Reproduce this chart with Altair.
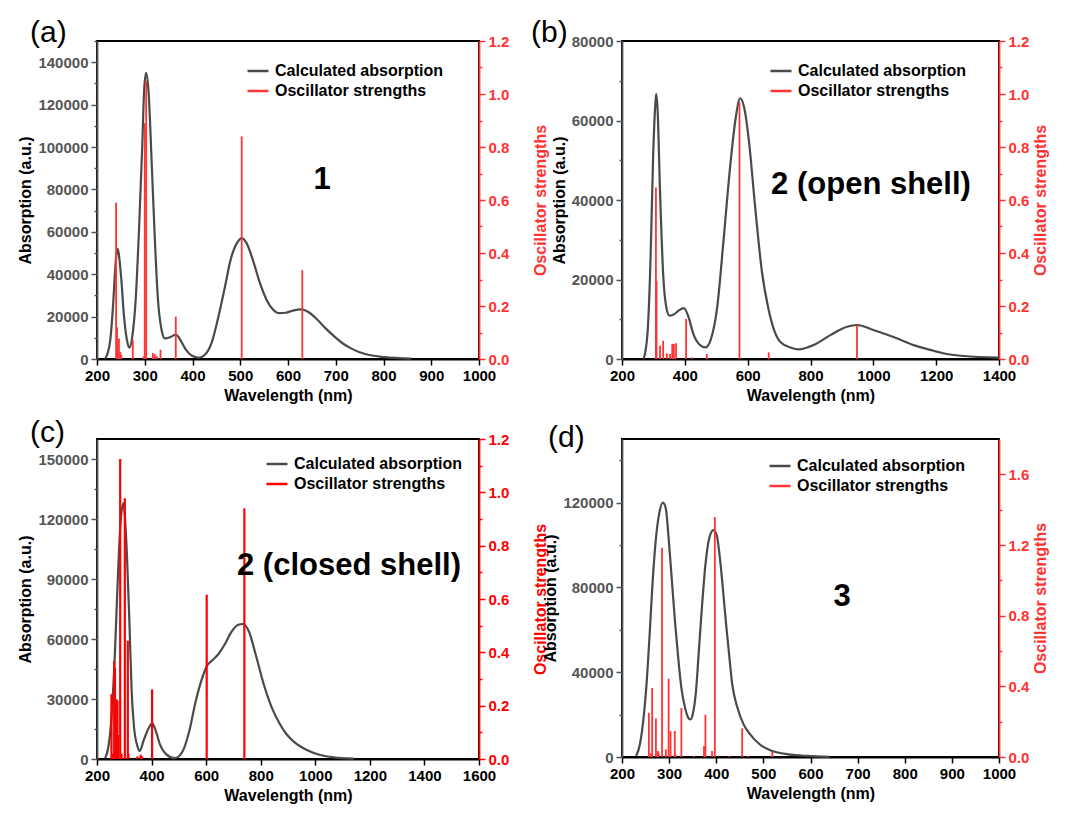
import altair as alt
import pandas as pd

FONT = "Liberation Sans"
GREY = "#4a4a4a"
SERIES = ["Calculated absorption", "Oscillator strengths"]

# ---------------- panel (a): compound 1 ----------------
a_curve_nm = [217, 227, 234, 238, 243, 250, 257, 264, 268, 274, 281, 288, 295, 299, 303, 308, 315, 322, 328,
              335, 342, 352, 365, 376, 386, 399, 413, 426, 440, 453, 467, 480, 494, 503, 514, 528, 541, 555,
              568, 582, 595, 610, 628, 645, 663, 680, 698, 715, 733, 750, 768, 802, 858]
a_curve_abs = [0, 7600, 26600, 42000, 52000, 40000, 19000, 7500, 5300, 10800, 28000, 61000, 102000, 128000,
               135000, 126000, 90000, 52000, 27000, 14000, 9700, 10200, 11500, 8400, 4400, 1500, 600, 2000, 7600,
               18700, 33000, 47000, 55000, 57000, 54300, 45600, 36000, 28000, 23500, 21600, 21800, 22800, 23400,
               21800, 18200, 14200, 10400, 7300, 4900, 3200, 2000, 900, 200]
a_stick_nm = [240, 242, 246, 249, 251, 275, 298, 300, 303, 317, 321, 325, 333, 365, 503, 630]
a_stick_f = [0.59, 0.12, 0.077, 0.026, 0.015, 0.073, 0.01, 0.89, 1.05, 0.023, 0.018, 0.012, 0.035, 0.16, 0.84, 0.335]

# ---------------- panel (b): compound 2 open shell ----------------
b_curve_nm = [269, 281, 291, 299, 306, 309, 313, 321, 331, 341, 351, 367, 382, 397, 412, 427, 447, 466, 483,
              503, 523, 544, 562, 576, 589, 604, 624, 645, 665, 685, 705, 736, 762, 810, 863, 916, 948, 1000,
              1075, 1128, 1181, 1234, 1287, 1400]
b_curve_abs = [0, 6300, 25500, 50700, 64000, 66700, 63200, 42300, 21400, 13000, 10900, 11300, 12300, 12800,
               10500, 6300, 3600, 2900, 5000, 13000, 29700, 48200, 60700, 65600, 63200, 54900, 38100, 22200,
               13000, 7100, 4200, 2900, 2400, 3500, 6000, 8100, 8550, 7300, 5200, 3500, 2300, 1260, 750, 350]
b_stick_nm = [308, 310, 321, 331, 343, 353, 360, 365, 372, 404, 422, 470, 574, 667, 948]
b_stick_f = [0.647, 0.295, 0.05, 0.069, 0.021, 0.019, 0.057, 0.057, 0.059, 0.151, 0.006, 0.019, 0.968, 0.025, 0.127]

# ---------------- panel (c): compound 2 closed shell ----------------
c_curve_nm = [230, 241, 253, 265, 277, 287, 297, 301, 310, 319, 327, 336, 348, 356, 372, 390, 402, 414, 431,
              455, 485, 514, 538, 562, 586, 603, 621, 645, 669, 692, 716, 734, 758, 781, 811, 841, 870, 894,
              920, 969, 1018, 1067, 1140]
c_curve_abs = [500, 5500, 20600, 50800, 92700, 119500, 128000, 123700, 101000, 67500, 34000, 15600, 6500, 4000,
               9700, 15600, 17800, 14700, 7200, 2200, 400, 3900, 13900, 29000, 40700, 46600, 49100, 52500, 57500,
               63400, 67000, 67500, 63400, 52500, 37400, 25600, 17500, 12500, 8800, 4500, 2000, 800, 150]
c_stick_nm = [253, 259, 263, 266, 271, 275, 277, 285, 290, 302, 313, 315, 348, 360, 365, 402, 602, 740]
c_stick_f = [0.243, 0.02, 0.368, 0.343, 0.224, 0.22, 0.09, 1.125, 0.02, 0.978, 0.444, 0.02, 0.01, 0.016, 0.01,
             0.261, 0.616, 0.94]

# ---------------- panel (d): compound 3 ----------------
d_curve_nm = [230, 238, 245, 252, 259, 265, 272, 279, 287, 293, 299, 306, 313, 320, 326, 333, 340, 345, 350,
              357, 363, 370, 377, 385, 394, 401, 407, 414, 421, 428, 434, 445, 458, 472, 492, 519, 553, 593, 640]
d_curve_abs = [500, 6000, 16900, 34200, 59200, 82700, 103100, 114900, 120000, 117200, 103100, 82700, 62400,
               45100, 32600, 24000, 18800, 17700, 20100, 31000, 49800, 71800, 90600, 103100, 107000, 104700,
               95300, 79600, 62400, 46700, 34200, 23200, 15400, 10700, 6000, 2800, 1250, 500, 100]
d_stick_nm = [257, 261, 264, 272, 276, 278, 285, 293, 299, 303, 312, 314, 326, 352, 374, 377, 391, 397, 428,
              455, 468, 519]
d_stick_f = [0.25, 0.02, 0.39, 0.218, 0.034, 0.024, 1.184, 0.043, 0.443, 0.147, 0.147, 0.015, 0.278, 0.006,
             0.062, 0.24, 0.034, 1.358, 0.006, 0.162, 0.006, 0.03]

# ---------------- tick values ----------------
x_major_1000 = [200, 300, 400, 500, 600, 700, 800, 900, 1000]
x_minor_1000 = [250, 350, 450, 550, 650, 750, 850, 950]
x_major_1400 = [200, 400, 600, 800, 1000, 1200, 1400]
x_minor_1400 = [300, 500, 700, 900, 1100, 1300]
x_major_1600 = [200, 400, 600, 800, 1000, 1200, 1400, 1600]
x_minor_1600 = [300, 500, 700, 900, 1100, 1300, 1500]
a_y_major = [0, 20000, 40000, 60000, 80000, 100000, 120000, 140000]
a_y_minor = [10000, 30000, 50000, 70000, 90000, 110000, 130000, 150000]
b_y_major = [0, 20000, 40000, 60000, 80000]
b_y_minor = [10000, 30000, 50000, 70000]
c_y_major = [0, 30000, 60000, 90000, 120000, 150000]
c_y_minor = [15000, 45000, 75000, 105000, 135000]
d_y_major = [0, 40000, 80000, 120000]
d_y_minor = [20000, 60000, 100000, 140000]
f_major_12 = [0, 0.2, 0.4, 0.6, 0.8, 1.0, 1.2]
f_minor_12 = [0.1, 0.3, 0.5, 0.7, 0.9, 1.1]
f_major_16 = [0, 0.4, 0.8, 1.2, 1.6]
f_minor_16 = [0.2, 0.6, 1.0, 1.4]


def tick_axis(major, minor, fmt, **kw):
    vals = sorted(major + minor)
    majs = "[" + ",".join(repr(v) for v in major) + "]"
    test = f"indexof({majs}, datum.value) < 0"
    return alt.Axis(values=vals, labelExpr=f"{test} ? '' : format(datum.value, '{fmt}')",
                    tickSize={"condition": {"test": test, "value": 3}, "value": 6},
                    labelOverlap=False, labelFlush=False, grid=False, **kw)


def panel(curve_nm, curve_abs, stick_nm, stick_f, xdom, xmaj, xmin, ydom, ymaj, ymin, fdom, fmaj, fmin,
          red, stick_w, w, h, label, label_xy, note, note_xy, legend_xy, right_pad):
    curve = pd.DataFrame({"nm": curve_nm, "val": curve_abs, "series": SERIES[0]})
    sticks = pd.DataFrame({"nm": stick_nm, "f": stick_f, "series": SERIES[1]})
    legend = alt.Legend(title=None, orient="none", legendX=legend_xy[0], legendY=legend_xy[1],
                        symbolType="stroke", symbolSize=441, symbolStrokeWidth=2.5,
                        labelFont=FONT, labelFontSize=16, labelFontWeight="bold", labelColor="#000",
                        labelLimit=400, rowPadding=0, labelOffset=5, padding=0)
    color = alt.Color("series:N", scale=alt.Scale(domain=SERIES, range=[GREY, red]), legend=legend)
    xenc = alt.X("nm:Q", scale=alt.Scale(domain=xdom, nice=False, zero=False),
                 axis=tick_axis(xmaj, xmin, "d", title="Wavelength (nm)", domainColor="#000",
                                tickColor="#000", labelColor="#000", titleColor="#000"))
    line = alt.Chart(curve).mark_line(strokeWidth=2.2, interpolate="monotone").encode(
        x=xenc,
        y=alt.Y("val:Q", scale=alt.Scale(domain=ydom, nice=False, zero=True),
                axis=tick_axis(ymaj, ymin, "d", title="Absorption (a.u.)", orient="left",
                               domainColor="#555", tickColor="#555", labelColor="#555", titleColor="#000")),
        color=color)
    rules = alt.Chart(sticks).mark_rule(strokeWidth=stick_w).encode(
        x=alt.X("nm:Q"),
        y=alt.Y("f:Q", scale=alt.Scale(domain=fdom, nice=False, zero=True),
                axis=tick_axis(fmaj, fmin, ".1f", title="Oscillator strengths", orient="right",
                               domainColor=red, tickColor=red, labelColor=red, titleColor=red,
                               titleAngle=270, titleBaseline="top", titlePadding=right_pad)),
        y2=alt.datum(0),
        color=color)
    one = pd.DataFrame({"k": [0]})
    lab = alt.Chart(one).mark_text(text=label, font=FONT, fontSize=30, align="left", baseline="alphabetic",
                                   color="#000").encode(x=alt.value(label_xy[0]), y=alt.value(label_xy[1]))
    nt = alt.Chart(one).mark_text(text=note, font=FONT, fontSize=31, fontWeight="bold", align="center",
                                  baseline="middle", color="#000").encode(
        x=alt.value(note_xy[0]), y=alt.value(note_xy[1]))
    return alt.layer(line, rules, lab, nt).resolve_scale(y="independent").properties(width=w, height=h)


RED1 = "#ff3333"
RED2 = "#ff0000"

A = panel(a_curve_nm, a_curve_abs, a_stick_nm, a_stick_f, [200, 1000], x_major_1000, x_minor_1000,
          [0, 150000], a_y_major, a_y_minor, [0, 1.2], f_major_12, f_minor_12, RED1, 1.8, 382, 318,
          "(a)", (-67, 1), "1", (225, 139), (149, 18), 24)
B = panel(b_curve_nm, b_curve_abs, b_stick_nm, b_stick_f, [200, 1400], x_major_1400, x_minor_1400,
          [0, 80000], b_y_major, b_y_minor, [0, 1.2], f_major_12, f_minor_12, RED1, 1.8, 377, 318,
          "(b)", (-91, 1), "2 (open shell)", (249, 144), (147, 18), 4)
C = panel(c_curve_nm, c_curve_abs, c_stick_nm, c_stick_f, [200, 1600], x_major_1600, x_minor_1600,
          [0, 160000], c_y_major, c_y_minor, [0, 1.2], f_major_12, f_minor_12, RED2, 2.2, 382, 320,
          "(c)", (-67, 3), "2 (closed shell)", (252, 127), (168, 13), 24)
D = panel(d_curve_nm, d_curve_abs, d_stick_nm, d_stick_f, [200, 1000], x_major_1000, x_minor_1000,
          [0, 150000], d_y_major, d_y_minor, [0, 1.8], f_major_16, f_minor_16, RED1, 1.8, 377, 318,
          "(d)", (-74, 8), "3", (220, 158), (146, 15), 4)

chart = alt.concat(A, B, C, D, columns=2, bounds="flush", spacing={"row": 80, "column": 143}).resolve_scale(
    color="independent"
).properties(
    padding={"left": 16, "top": 17, "right": 5, "bottom": 5}
).configure(background="white").configure_view(stroke="#000", strokeWidth=2).configure_axis(
    labelFont=FONT, labelFontSize=15, labelFontWeight="bold", titleFont=FONT, titleFontSize=16,
    titleFontWeight="bold", domainWidth=1.8, tickWidth=1.5, labelPadding=3, titlePadding=4
).configure_legend(rowPadding=1)

chart.save("out.html", embed_options={"renderer": "svg", "actions": False})
